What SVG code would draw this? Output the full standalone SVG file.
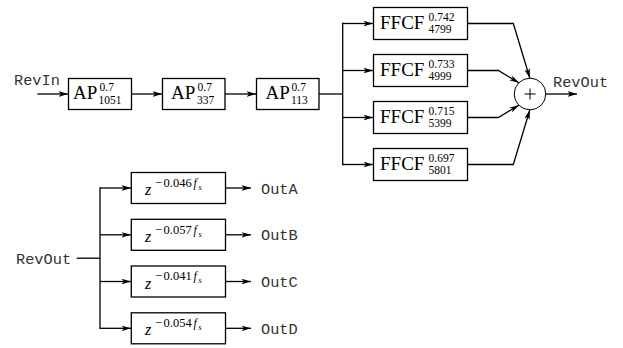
<svg xmlns="http://www.w3.org/2000/svg" width="623" height="348" viewBox="0 0 623 348">
<defs>
<style>
.box{fill:#fff;stroke:#000;stroke-width:1.3}
.ln{fill:none;stroke:#000;stroke-width:1.3}
.arr{marker-end:url(#ah)}
.sum{fill:#fff;stroke:#000;stroke-width:1}
.rm{font-family:"Liberation Serif",serif;font-size:19px;fill:#000}
.sc{font-family:"Liberation Serif",serif;font-size:11.5px;fill:#000}
.ds{font-family:"Liberation Serif",serif;font-size:12.5px;fill:#000}
.zz{font-family:"Liberation Serif",serif;font-style:italic;font-size:16px;fill:#000}
.ff{font-family:"Liberation Serif",serif;font-style:italic;font-size:12px;fill:#000}
.ss{font-family:"Liberation Serif",serif;font-style:italic;font-size:8px;fill:#000}
.tt{font-family:"Liberation Mono",monospace;font-size:15.3px;fill:#333}
</style>
<marker id="ah" viewBox="0 0 10 6" refX="9.5" refY="3" markerWidth="10" markerHeight="6" orient="auto" markerUnits="userSpaceOnUse"><path d="M0,0.2 L9.5,3 L0,5.8 L2.5,3 z" fill="#000"/></marker>
</defs>
<g id="connectors">
<path class="ln arr" d="M37.3,94 H68"/>
<path class="ln arr" d="M131.5,94 H162"/>
<path class="ln arr" d="M225,94 H256"/>
<path class="ln" d="M319,94 H342.7"/>
<path class="ln" d="M342.7,23.5 V164.5" stroke-linecap="square"/>
<path class="ln arr" d="M342.7,23.5 H373"/>
<path class="ln arr" d="M342.7,70.5 H373"/>
<path class="ln arr" d="M342.7,117.5 H373"/>
<path class="ln arr" d="M342.7,164.5 H373"/>
<path class="ln arr" d="M467.5,23.5 H513.3 L529.8,78"/>
<path class="ln arr" d="M467.5,70.5 H498.3 L518.8,82.8"/>
<path class="ln arr" d="M467.5,117.5 H498.3 L518.8,105.2"/>
<path class="ln arr" d="M467.5,164.5 H513.3 L529.8,110"/>
<path class="ln arr" d="M545.8,94 H577"/>
<path class="ln" d="M76.7,258.2 H100"/>
<path class="ln" d="M100,188 V328.3" stroke-linecap="square"/>
<path class="ln arr" d="M100,188 H131"/>
<path class="ln arr" d="M100,234.8 H131"/>
<path class="ln arr" d="M100,281.5 H131"/>
<path class="ln arr" d="M100,328.3 H131"/>
<path class="ln arr" d="M225.5,188 H251"/>
<path class="ln arr" d="M225.5,234.8 H251"/>
<path class="ln arr" d="M225.5,281.5 H251"/>
<path class="ln arr" d="M225.5,328.3 H251"/>
</g>
<g id="revin"><text class="tt" x="14" y="85">RevIn</text></g>
<g id="ap1">
<rect class="box" x="68.5" y="78.5" width="63" height="31"/>
<text class="rm" x="73" y="99">AP</text>
<text class="sc" x="99.5" y="91">0.7</text>
<text class="sc" x="98.5" y="103.8">1051</text>
</g>
<g id="ap2">
<rect class="box" x="162.5" y="78.5" width="62.5" height="31"/>
<text class="rm" x="171" y="99">AP</text>
<text class="sc" x="197.5" y="91">0.7</text>
<text class="sc" x="197" y="103.8">337</text>
</g>
<g id="ap3">
<rect class="box" x="256.5" y="78.5" width="62.5" height="31"/>
<text class="rm" x="265.5" y="99">AP</text>
<text class="sc" x="291.5" y="91">0.7</text>
<text class="sc" x="291" y="103.8">113</text>
</g>
<g id="ffcf1">
<rect class="box" x="373.5" y="7.5" width="94" height="32"/>
<text class="rm" x="380" y="28.5">FFCF</text>
<text class="sc" x="428.5" y="20.5">0.742</text>
<text class="sc" x="428.5" y="33.3">4799</text>
</g>
<g id="ffcf2">
<rect class="box" x="373.5" y="54.5" width="94" height="32"/>
<text class="rm" x="380" y="75.5">FFCF</text>
<text class="sc" x="428.5" y="67.5">0.733</text>
<text class="sc" x="428.5" y="80.3">4999</text>
</g>
<g id="ffcf3">
<rect class="box" x="373.5" y="101.5" width="94" height="32"/>
<text class="rm" x="380" y="122.5">FFCF</text>
<text class="sc" x="428.5" y="114.5">0.715</text>
<text class="sc" x="428.5" y="127.3">5399</text>
</g>
<g id="ffcf4">
<rect class="box" x="373.5" y="148.5" width="94" height="32"/>
<text class="rm" x="380" y="169.5">FFCF</text>
<text class="sc" x="428.5" y="161.5">0.697</text>
<text class="sc" x="428.5" y="174.3">5801</text>
</g>
<g id="sum">
<circle class="sum" cx="530" cy="94" r="15.8"/>
<path class="sum" d="M524.5,94 H535.5 M530,88.5 V99.5" fill="none"/>
</g>
<g id="revout1"><text class="tt" x="553" y="86.5">RevOut</text></g>
<g id="revout2"><text class="tt" x="16" y="264">RevOut</text></g>
<g id="delayA">
<rect class="box" x="131.3" y="172.5" width="94.2" height="31"/>
<text class="zz" x="145" y="195">z</text>
<text class="ds" x="155" y="186.8">−<tspan dx="1.5">0.046</tspan></text>
<text class="ff" x="193.5" y="186.8">f</text>
<text class="ss" x="198.5" y="189.8">s</text>
</g>
<g id="delayB">
<rect class="box" x="131.3" y="219.3" width="94.2" height="31"/>
<text class="zz" x="145" y="241.8">z</text>
<text class="ds" x="155" y="233.6">−<tspan dx="1.5">0.057</tspan></text>
<text class="ff" x="193.5" y="233.6">f</text>
<text class="ss" x="198.5" y="236.6">s</text>
</g>
<g id="delayC">
<rect class="box" x="131.3" y="266" width="94.2" height="31"/>
<text class="zz" x="145" y="288.5">z</text>
<text class="ds" x="155" y="280.3">−<tspan dx="1.5">0.041</tspan></text>
<text class="ff" x="193.5" y="280.3">f</text>
<text class="ss" x="198.5" y="283.3">s</text>
</g>
<g id="delayD">
<rect class="box" x="131.3" y="312.8" width="94.2" height="31"/>
<text class="zz" x="145" y="335.3">z</text>
<text class="ds" x="155" y="327.1">−<tspan dx="1.5">0.054</tspan></text>
<text class="ff" x="193.5" y="327.1">f</text>
<text class="ss" x="198.5" y="330.1">s</text>
</g>
<g id="outA"><text class="tt" x="261" y="193.5">OutA</text></g>
<g id="outB"><text class="tt" x="261" y="240.3">OutB</text></g>
<g id="outC"><text class="tt" x="261" y="287">OutC</text></g>
<g id="outD"><text class="tt" x="261" y="333.8">OutD</text></g>
</svg>
